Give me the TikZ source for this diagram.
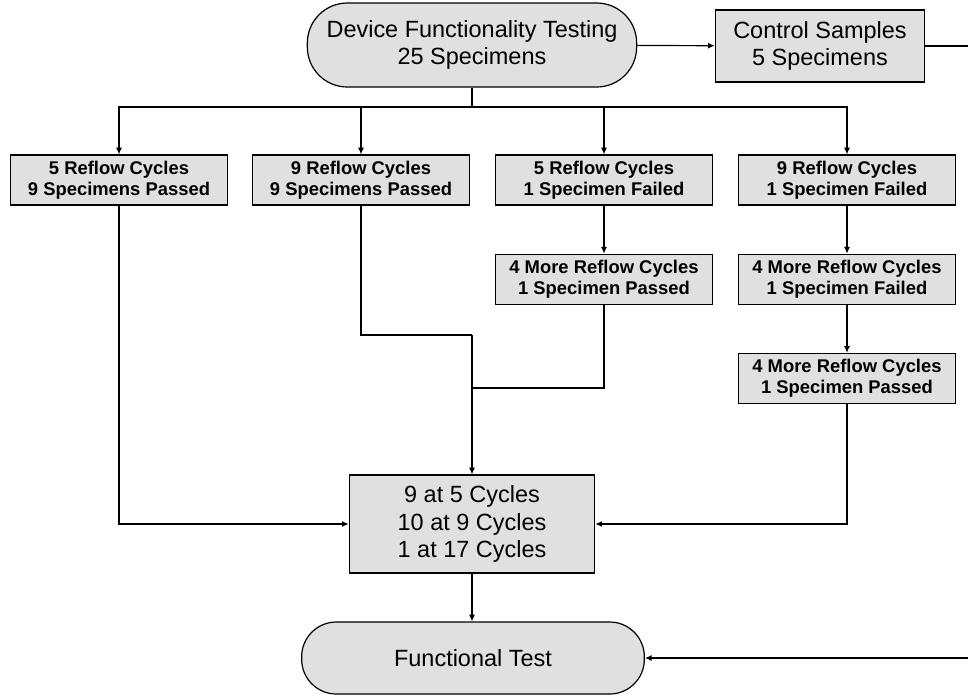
\documentclass[tikz,border=0pt]{standalone}
\usepackage{fontspec}
\setmainfont{Liberation Sans}
\usetikzlibrary{arrows.meta,positioning}

\begin{document}
\begin{tikzpicture}[
        x=0.75pt, y=-0.75pt,
        >={Latex[length=5pt,width=4.5pt]},
        every path/.style={line width=0.9pt},
        every node/.style={draw, fill=black!12, align=center, inner sep=0pt},
        cyclebox/.style={minimum width=163pt, minimum height=37.5pt,
            font=\fontsize{13.8}{16}\selectfont\bfseries},
        plainbox/.style={font=\fontsize{17.6}{20.5}\selectfont},
        term/.style={rounded corners=#1, font=\fontsize{17.6}{20.5}\selectfont}
    ]

    \useasboundingbox (0,0) rectangle (968,694);

    % Nodes
    \node[term=30pt, minimum width=247pt, minimum height=63pt] (dft) at (472,45)
        {Device Functionality Testing \\ 25 Specimens};
    \node[plainbox, minimum width=157pt, minimum height=54pt] (ctrl) at (820,46)
        {Control Samples \\ 5 Specimens};

    \node[cyclebox] (r5p) at (119,180) {5 Reflow Cycles \\ 9 Specimens Passed};
    \node[cyclebox] (r9p) at (361,180) {9 Reflow Cycles \\ 9 Specimens Passed};
    \node[cyclebox] (r5f) at (604,180) {5 Reflow Cycles \\ 1 Specimen Failed};
    \node[cyclebox] (r9f) at (847,180) {9 Reflow Cycles \\ 1 Specimen Failed};

    \node[cyclebox, below=36pt of r5f] (m5p) {4 More Reflow Cycles \\ 1 Specimen Passed};
    \node[cyclebox, below=36pt of r9f] (m9f) {4 More Reflow Cycles \\ 1 Specimen Failed};
    \node[cyclebox, below=36pt of m9f] (m9p) {4 More Reflow Cycles \\ 1 Specimen Passed};

    \node[plainbox, minimum width=184pt, minimum height=73.5pt] (tally) at (472,524)
        {9 at 5 Cycles \\ 10 at 9 Cycles \\ 1 at 17 Cycles};
    \node[term=26pt, minimum width=257pt, minimum height=54pt] (ftest) at (473,658)
        {Functional Test};

    \coordinate (bus) at (472,107);
    \coordinate (joinA) at (472,335);
    \coordinate (joinB) at (472,388);
    \coordinate (ctrlout) at (968,46);
    \coordinate (ftestin) at (968,658);

    % Edges
    \draw[->] (dft) -- (ctrl);
    \draw (ctrl) -- (ctrlout);
    \draw (dft) -- (bus);
    \draw[->] (bus) -| (r5p);
    \draw[->] (bus) -| (r9p);
    \draw[->] (bus) -| (r5f);
    \draw[->] (bus) -| (r9f);

    \draw[->] (r5f) -- (m5p);
    \draw[->] (r9f) -- (m9f);
    \draw[->] (m9f) -- (m9p);

    \draw[->] (r5p) |- (tally);
    \draw (r9p) |- (joinA);
    \draw (m5p) |- (joinB);
    \draw[->] (joinA) -- (tally);
    \draw[->] (m9p) |- (tally);

    \draw[->] (tally) -- (tally |- ftest.north);
    \draw[->] (ftestin) -- (ftest);

\end{tikzpicture}
\end{document}
